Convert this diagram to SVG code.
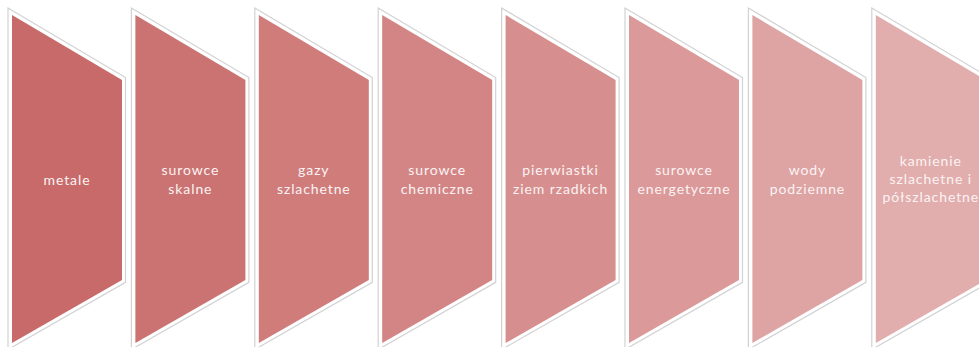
<svg xmlns="http://www.w3.org/2000/svg" width="979" height="347" viewBox="0 0 979 347">
<defs>
<style>
.o{fill:none;stroke:#d2d2d2;stroke-width:1.2}
.t{font-family:"Lato","Open Sans","Liberation Sans",sans-serif;font-size:14px;fill:#fbf3f3;text-anchor:middle;letter-spacing:0.9px}
</style>
<polygon id="sh" points="0,15 110,80 110,280 0,343"/>
<polygon id="ol" points="-4,8 113.5,77.5 113.5,282.3 -4,349.5"/>
</defs>
<rect width="979" height="347" fill="#ffffff"/>
<g id="n1" transform="translate(12,0)">
<use href="#ol" class="o"/><use href="#sh" fill="#C76A69"/>
<text class="t" x="55" y="185">metale</text>
</g>
<g id="n2" transform="translate(135.4,0)">
<use href="#ol" class="o"/><use href="#sh" fill="#CB7372"/>
<text class="t" x="55" y="175">surowce</text><text class="t" x="55" y="194">skalne</text>
</g>
<g id="n3" transform="translate(258.8,0)">
<use href="#ol" class="o"/><use href="#sh" fill="#CF7C7B"/>
<text class="t" x="55" y="175">gazy</text><text class="t" x="55" y="194">szlachetne</text>
</g>
<g id="n4" transform="translate(382.2,0)">
<use href="#ol" class="o"/><use href="#sh" fill="#D38585"/>
<text class="t" x="55" y="175">surowce</text><text class="t" x="55" y="194">chemiczne</text>
</g>
<g id="n5" transform="translate(505.6,0)">
<use href="#ol" class="o"/><use href="#sh" fill="#D78E8E"/>
<text class="t" x="55" y="175">pierwiastki</text><text class="t" x="55" y="194">ziem rzadkich</text>
</g>
<g id="n6" transform="translate(629,0)">
<use href="#ol" class="o"/><use href="#sh" fill="#DB9999"/>
<text class="t" x="55" y="175">surowce</text><text class="t" x="55" y="194">energetyczne</text>
</g>
<g id="n7" transform="translate(752.4,0)">
<use href="#ol" class="o"/><use href="#sh" fill="#DEA3A3"/>
<text class="t" x="55" y="175">wody</text><text class="t" x="55" y="194">podziemne</text>
</g>
<g id="n8" transform="translate(875.8,0)">
<use href="#ol" class="o"/><use href="#sh" fill="#E2ADAD"/>
<text class="t" x="55" y="166">kamienie</text><text class="t" x="55" y="184">szlachetne i</text><text class="t" x="55" y="202">półszlachetne</text>
</g>
<g id="connectors"></g>
</svg>
